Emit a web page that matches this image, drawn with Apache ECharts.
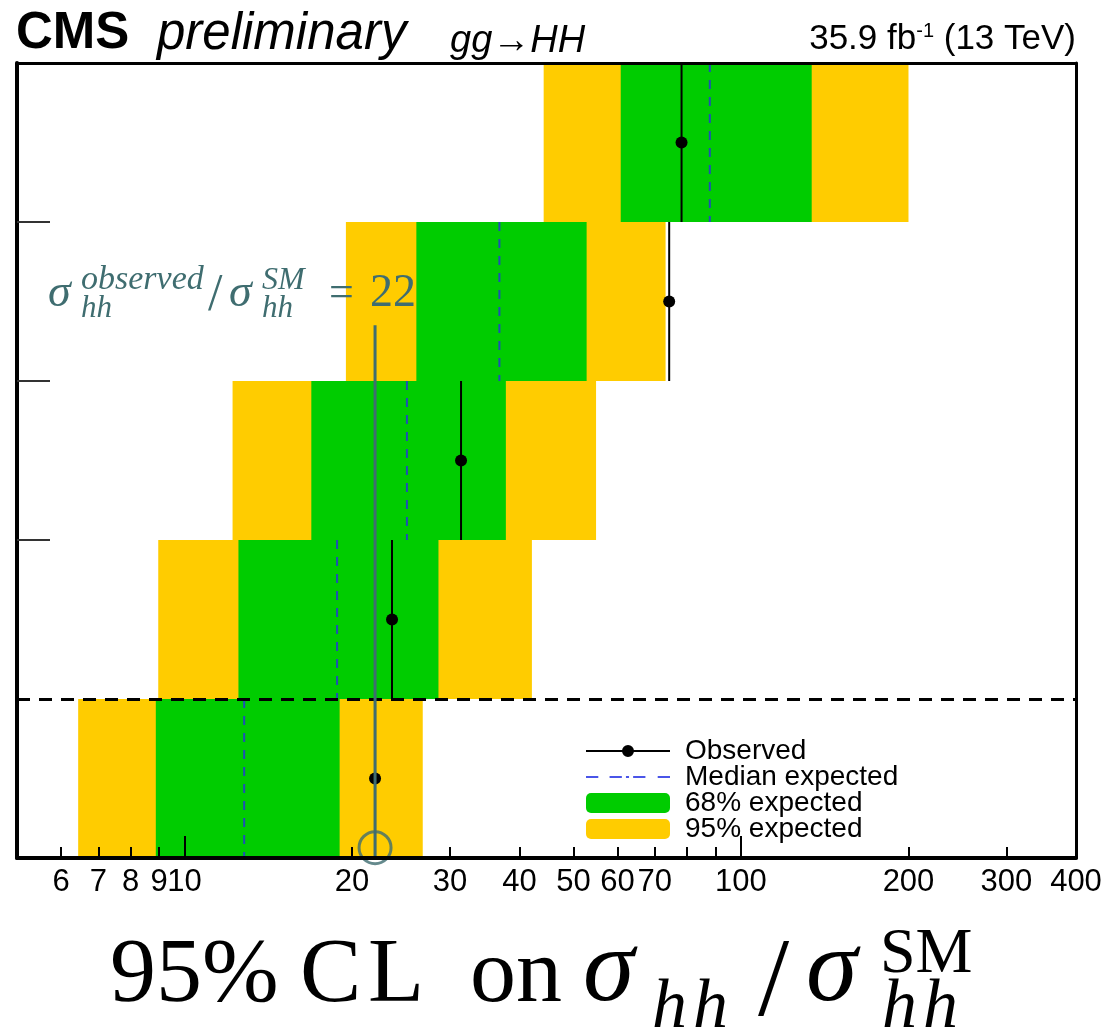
<!DOCTYPE html>
<html><head><meta charset="utf-8">
<script src="https://cdn.jsdelivr.net/npm/echarts@6/dist/echarts.min.js"></script>
<style>html,body{margin:0;padding:0;background:#fff}#c{width:1110px;height:1036px}</style>
</head><body><div id="c"></div>
<script>
// ---- data (rows bottom -> top) ----
const rowIndex = [0, 1, 2, 3, 4];
const lo95 = [6.44, 8.97, 12.2, 19.5, 44.2];
const lo68 = [8.88, 12.5, 16.9, 26.1, 60.8];
const median = [12.8, 18.8, 25.1, 36.8, 87.9];
const hi68 = [19.0, 28.6, 37.8, 52.8, 134];
const hi95 = [26.8, 42.1, 54.9, 73.2, 200];
const observed = [22.0, 23.6, 31.4, 74.3, 78.2];
const xTickValues = [6, 7, 8, 9, 10, 20, 30, 40, 50, 60, 70, 80, 90, 100, 200, 300, 400];
const xMajorTicks = [10, 100];
const xLabelValues = [6, 7, 8, 9, 10, 20, 30, 40, 50, 60, 70, 100, 200, 300, 400];
const yTickValues = [2, 3, 4];
const refLineY = 1;
const noteValue = 22;
const noteLine = [[22, 0], [22, 3.35]];
const noteCircle = [[22, 0.065]];
const legendNames = ['Observed', 'Median expected', '68% expected', '95% expected'];

const GREEN = '#00cc00', YELLOW = '#ffcc00', BLUE = '#1f4fb5', TEAL = '#3f6d70';
const SANS = '"Liberation Sans", Arial, Helvetica, sans-serif';
const SERIF = '"Liberation Serif", "Times New Roman", serif';

function bandItem(color) {
  return function (params, api) {
    const a = api.coord([api.value(0), api.value(2) + 1]);
    const b = api.coord([api.value(1), api.value(2)]);
    return { type: 'rect', shape: { x: a[0], y: a[1], width: b[0] - a[0], height: b[1] - a[1] },
      style: { fill: color } };
  };
}

function txt(x, base, text, fs, family, extra) {
  extra = extra || {};
  return { type: 'text', x: x, y: base - 0.31 * fs, z: 100,
    style: { text: text, font: (extra.style || 'normal') + ' ' + (extra.weight || 'normal') + ' ' + fs + 'px ' + family,
      fill: extra.fill || '#000', align: extra.align || 'left', verticalAlign: 'middle' } };
}

const chart = echarts.init(document.getElementById('c'), null, { renderer: 'canvas' });
const option = {
  animation: false,
  backgroundColor: '#fff',
  grid: { left: 17, right: 34, top: 63, bottom: 178, containLabel: false },
  xAxis: [
    { type: 'log', logBase: 10, min: 5, max: 400, position: 'bottom', z: 10,
      axisLine: { show: true, lineStyle: { color: '#000', width: 4 } },
      axisTick: { show: true, inside: true, length: 11, customValues: xTickValues, lineStyle: { color: '#000', width: 2 } },
      axisLabel: { show: true, customValues: xLabelValues, margin: 9, color: '#000', fontSize: 31,
        fontFamily: SANS, formatter: v => String(Math.round(v)) },
      splitLine: { show: false } },
    { type: 'log', logBase: 10, min: 5, max: 400, position: 'bottom', z: 10,
      axisLine: { show: false },
      axisTick: { show: true, inside: true, length: 22, customValues: xMajorTicks, lineStyle: { color: '#000', width: 2 } },
      axisLabel: { show: false }, splitLine: { show: false } },
    { type: 'log', logBase: 10, min: 5, max: 400, position: 'top', z: 10,
      axisLine: { show: true, lineStyle: { color: '#000', width: 3 } },
      axisTick: { show: false }, axisLabel: { show: false }, splitLine: { show: false } }
  ],
  yAxis: [
    { type: 'value', min: 0, max: 5, position: 'left', z: 10,
      axisLine: { show: true, lineStyle: { color: '#000', width: 4 } },
      axisTick: { show: true, inside: true, length: 33, customValues: yTickValues, lineStyle: { color: '#333', width: 2 } },
      axisLabel: { show: false }, splitLine: { show: false } },
    { type: 'value', min: 0, max: 5, position: 'right', z: 10,
      axisLine: { show: true, lineStyle: { color: '#000', width: 3 } },
      axisTick: { show: false }, axisLabel: { show: false }, splitLine: { show: false } }
  ],
  legend: {
    orient: 'vertical', left: 586, top: 737, padding: 0, itemWidth: 84, itemHeight: 20, itemGap: -2,
    textStyle: { fontSize: 28, fontFamily: SANS, color: '#000', lineHeight: 26, padding: [0, 0, 0, 10] },
    data: [
      { name: legendNames[0], icon: 'path://M0,5h84v2H0z M42,0a6,6 0 1,1 -0.01,0z', itemStyle: { color: '#000' } },
      { name: legendNames[1], icon: 'path://M0,0h12v2H0z M23,0h12v2H23z M39,0h3v2H39z M46,0h12v2H46z M70,0h12v2H70z', itemStyle: { color: '#4a55e8' } },
      { name: legendNames[2], icon: 'roundRect' },
      { name: legendNames[3], icon: 'roundRect' }
    ]
  },
  series: [
    { name: legendNames[3], type: 'custom', z: 2, itemStyle: { color: YELLOW },
      renderItem: bandItem(YELLOW), encode: { x: [0, 1], y: 2 },
      data: rowIndex.map(i => [lo95[i], hi95[i], i]) },
    { name: legendNames[2], type: 'custom', z: 3, itemStyle: { color: GREEN },
      renderItem: bandItem(GREEN), encode: { x: [0, 1], y: 2 },
      data: rowIndex.map(i => [lo68[i], hi68[i], i]) },
    { name: legendNames[1], type: 'custom', z: 4, itemStyle: { color: BLUE },
      encode: { x: 0, y: 1 },
      renderItem: function (params, api) {
        const a = api.coord([api.value(0), api.value(1) + 1]);
        const b = api.coord([api.value(0), api.value(1)]);
        return { type: 'line', shape: { x1: a[0], y1: a[1], x2: b[0], y2: b[1] },
          style: { stroke: BLUE, lineWidth: 2, lineDash: [9, 8] } };
      },
      data: rowIndex.map(i => [median[i], i]) },
    { name: legendNames[0], type: 'custom', z: 5, itemStyle: { color: '#000' },
      encode: { x: 0, y: 1 },
      renderItem: function (params, api) {
        const x = api.value(0), i = api.value(1);
        const a = api.coord([x, i + 1]), b = api.coord([x, i]), m = api.coord([x, i + 0.5]);
        return { type: 'group', children: [
          { type: 'line', shape: { x1: a[0], y1: a[1], x2: b[0], y2: b[1] }, style: { stroke: '#000', lineWidth: 2 } },
          { type: 'circle', shape: { cx: m[0], cy: m[1], r: 6 }, style: { fill: '#000' } }
        ] };
      },
      data: rowIndex.map(i => [observed[i], i]) },
    { name: 'ref', type: 'line', data: [], z: 6,
      markLine: { silent: true, symbol: ['none', 'none'], label: { show: false },
        lineStyle: { color: '#000', width: 3, type: [13, 9] }, data: [{ yAxis: refLineY }] } },
    { name: 'noteLine', type: 'line', z: 7, data: noteLine, showSymbol: false, symbol: 'none',
      lineStyle: { color: TEAL, width: 3 } },
    { name: 'noteCircle', type: 'scatter', z: 7, data: noteCircle, symbol: 'circle', symbolSize: 32,
      itemStyle: { color: 'rgba(0,0,0,0)', borderColor: TEAL, borderWidth: 3 } }
  ],
  graphic: [
    txt(16, 50, 'CMS', 51, SANS, { weight: 'bold' }),
    txt(157, 51, 'preliminary', 51, SANS, { style: 'italic' }),
    txt(450, 53, 'gg\u2192HH', 38, SANS, { style: 'italic' }),
    { type: 'text', x: 1076, y: 39, z: 100,
      style: { text: '{a|35.9 fb}{s|-1}{a| (13 TeV)}', align: 'right', verticalAlign: 'middle',
        rich: { a: { fontSize: 35, fontFamily: SANS, fill: '#000', color: '#000' },
                s: { fontSize: 20, fontFamily: SANS, fill: '#000', color: '#000', verticalAlign: 'top' } } } },
    // annotation
    txt(48, 308, '\u03C3', 46, SERIF, { style: 'italic', fill: TEAL }),
    txt(81, 291, 'observed', 34, SERIF, { style: 'italic', fill: TEAL }),
    txt(81, 318, 'hh', 31, SERIF, { style: 'italic', fill: TEAL }),
    txt(208, 312, '/', 52, SERIF, { fill: TEAL }),
    txt(229, 308, '\u03C3', 46, SERIF, { style: 'italic', fill: TEAL }),
    txt(262, 291, 'SM', 32, SERIF, { style: 'italic', fill: TEAL }),
    txt(262, 318, 'hh', 31, SERIF, { style: 'italic', fill: TEAL }),
    txt(329, 308, '=', 44, SERIF, { fill: TEAL }),
    txt(370, 308, String(noteValue), 46, SERIF, { fill: TEAL }),
    // axis title
    txt(110, 1005, '95%', 92, SERIF),
    txt(300, 1005, 'C', 92, SERIF),
    txt(368, 1005, 'L', 92, SERIF),
    txt(470, 1005, 'on', 92, SERIF),
    txt(583, 1005, '\u03C3', 104, SERIF, { style: 'italic' }),
    txt(652, 1030, 'h', 70, SERIF, { style: 'italic' }),
    txt(693, 1030, 'h', 70, SERIF, { style: 'italic' }),
    txt(758, 1020, '/', 112, SERIF),
    txt(806, 1005, '\u03C3', 104, SERIF, { style: 'italic' }),
    txt(880, 975, 'SM', 64, SERIF),
    txt(882, 1030, 'h', 70, SERIF, { style: 'italic' }),
    txt(923, 1030, 'h', 70, SERIF, { style: 'italic' })
  ]
};
chart.setOption(option);
</script></body></html>
